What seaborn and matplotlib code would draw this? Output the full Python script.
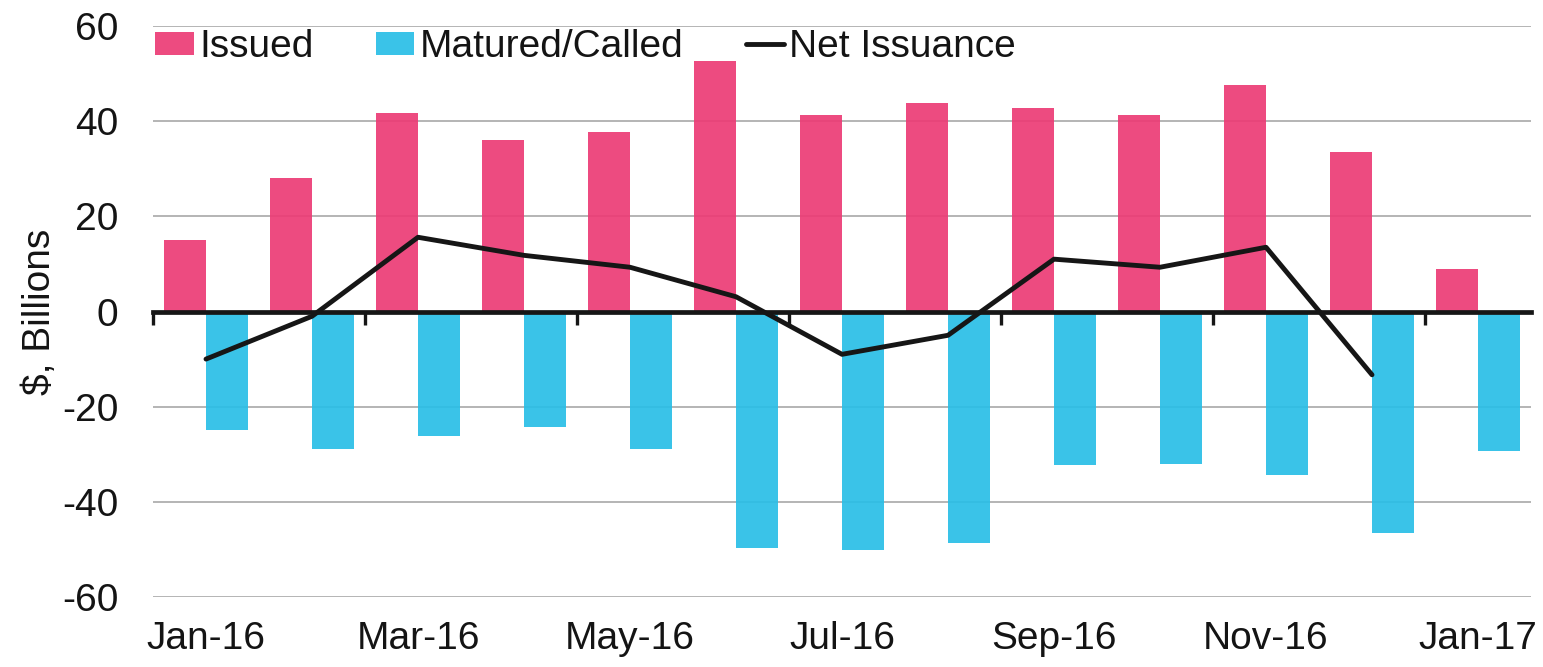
import numpy as np
import pandas as pd
import matplotlib
matplotlib.use("Agg")
import matplotlib.pyplot as plt
import seaborn as sns
from matplotlib.patches import Patch
from matplotlib.lines import Line2D

# ---------------- data ----------------
months = ["Jan-16", "Feb-16", "Mar-16", "Apr-16", "May-16", "Jun-16", "Jul-16",
          "Aug-16", "Sep-16", "Oct-16", "Nov-16", "Dec-16", "Jan-17"]
issued = [15.0, 28.0, 41.7, 36.0, 37.7, 52.6, 41.4, 43.9, 42.8, 41.4, 47.5, 33.5, 9.0]
matured = [-25.0, -29.0, -26.2, -24.3, -28.8, -49.6, -50.1, -48.6, -32.3, -32.1, -34.4, -46.5, -29.3]
net_months = months[:12]
net = [-10.0, -1.0, 15.6, 11.8, 9.3, 3.1, -9.0, -5.0, 11.0, 9.3, 13.5, -13.3]
label_months = months[::2]
series_names = ["Issued", "Matured/Called", "Net Issuance"]

# ---------------- style ----------------
sns.set_theme(style="white")
plt.rcParams["font.family"] = ["Liberation Sans", "DejaVu Sans"]
plt.rcParams["axes.unicode_minus"] = False
TXT = "#141414"
PINK = "#EC3B75"
BLUE = "#29BEE6"
LINE = "#161616"
ALPHA = 0.92
FS = 28

W, H = 1543, 667
fig = plt.figure(figsize=(W / 100, H / 100), dpi=100)
L, R, T, B = 153, 1531, 26, 597
ax = fig.add_axes([L / W, 1 - B / H, (R - L) / W, (B - T) / H])

df = pd.DataFrame({
    "Month": months * 2,
    "Value": issued + matured,
    "Series": [series_names[0]] * len(months) + [series_names[1]] * len(months),
})

sns.barplot(data=df, x="Month", y="Value", hue="Series", order=months,
            hue_order=series_names[:2],
            palette={series_names[0]: PINK, series_names[1]: BLUE},
            width=0.8, dodge=True, saturation=1, alpha=ALPHA, linewidth=0,
            legend=False, errorbar=None, ax=ax, zorder=2)

sns.lineplot(x=net_months, y=net, color=LINE, lw=3.5, sort=False,
             ax=ax, zorder=6, solid_joinstyle="round", solid_capstyle="round")

ax.set_xlim(-0.5, len(months) - 0.5)
ax.set_ylim(-60, 60)
ax.set_yticks(np.arange(-60, 61, 20))
ax.yaxis.grid(True, color="#a8a8a8", lw=1.2)
ax.xaxis.grid(False)
ax.set_axisbelow(True)
for s in ax.spines.values():
    s.set_visible(False)

ax.set_xticks(np.arange(0, len(months), 2))
ax.set_xticklabels(label_months)
ax.tick_params(axis="x", length=0, pad=17, labelsize=FS, labelcolor=TXT)
ax.tick_params(axis="y", length=0, pad=25, labelsize=FS, labelcolor=TXT)
ax.set_xlabel("")
ax.set_ylabel("$, Billions", fontsize=FS, color=TXT)
ax.yaxis.set_label_coords(-0.069, 0.5)

# zero axis line with downward tick marks at 2-month boundaries
sec = ax.secondary_xaxis(0.5)
sec.set_alignment("bottom")
sec.set_xticks(np.arange(-0.5, len(months), 2))
sec.set_xticklabels([])
sec.tick_params(axis="x", direction="out", length=9, width=2.4, color=LINE)
sec.spines["bottom"].set_color(LINE)
sec.spines["bottom"].set_linewidth(3.4)
sec.set_zorder(5)

handles = [Patch(facecolor=PINK, alpha=ALPHA, lw=0),
           Patch(facecolor=BLUE, alpha=ALPHA, lw=0),
           Line2D([], [], color=LINE, lw=3.5)]
leg = ax.legend(handles, series_names, loc="center left",
                bbox_to_anchor=(0.0015, 0.963), ncol=3, frameon=False,
                fontsize=FS, handlelength=1.0, handleheight=0.55,
                handletextpad=0.13, columnspacing=1.6, borderpad=0,
                borderaxespad=0)
for t in leg.get_texts():
    t.set_color(TXT)

fig.savefig("out.png", dpi=100)
